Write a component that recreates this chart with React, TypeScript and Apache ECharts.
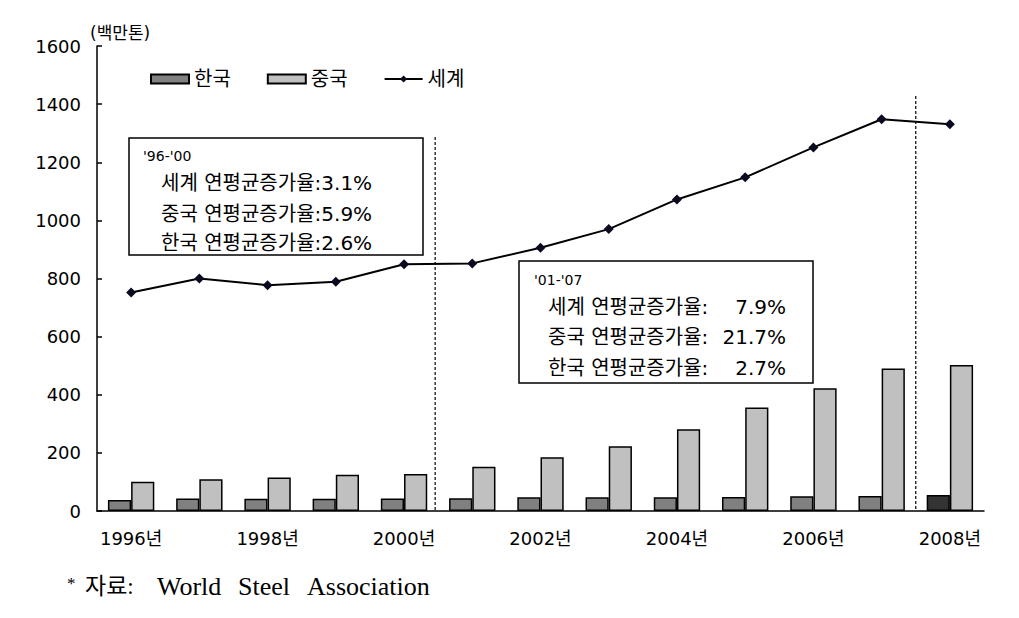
import { useEffect, useRef } from "react";
import * as echarts from "echarts";

const years = ["1996년", "1997년", "1998년", "1999년", "2000년", "2001년", "2002년", "2003년", "2004년", "2005년", "2006년", "2007년", "2008년"];
const korea = [38, 43, 42, 42, 43, 44, 47, 47, 47, 48, 51, 52, 55];
const china = [101, 109, 115, 125, 127, 152, 185, 223, 281, 356, 422, 490, 502];
const world = [752, 800, 777, 789, 849, 852, 906, 970, 1072, 1148, 1251, 1348, 1331];
const yTicks = { min: 0, max: 1600, interval: 200 };

const box1Lines = ["'96-'00", "세계 연평균증가율:3.1%", "중국 연평균증가율:5.9%", "한국 연평균증가율:2.6%"];
const box2Header = "'01-'07";
const box2Labels = ["세계 연평균증가율:", "중국 연평균증가율:", "한국 연평균증가율:"];
const box2Values = ["7.9%", "21.7%", "2.7%"];
const sourceWords = ["World", "Steel", "Association"];

const FONT = "'DejaVu Sans', 'Noto Sans CJK KR', sans-serif";
const SERIF = "'Liberation Serif', 'Noto Sans CJK KR', serif";

export default function App() {
  const ref = useRef<HTMLDivElement>(null);
  useEffect(() => {
    if (!ref.current) return;
    const chart = echarts.init(ref.current, undefined, { renderer: "svg" });
    const lastIdx = years.length - 1;
    chart.setOption({
      animation: false,
      backgroundColor: "#fff",
      grid: { left: 97, top: 46, width: 887, height: 465, containLabel: false },
      legend: {
        left: 145,
        top: 64,
        itemWidth: 38,
        itemHeight: 9,
        itemGap: 36,
        selectedMode: false,
        textStyle: { fontSize: 20, color: "#000", fontFamily: FONT },
        data: [
          { name: "한국", icon: "rect" },
          { name: "중국", icon: "rect" },
          { name: "세계" },
        ],
      },
      xAxis: {
        type: "category",
        data: years,
        boundaryGap: true,
        axisLine: { lineStyle: { color: "#000", width: 1.5 } },
        axisTick: { inside: true, length: 5, interval: 0, lineStyle: { color: "#000", width: 1.5 } },
        axisLabel: { interval: 1, fontSize: 18, color: "#000", margin: 18, fontFamily: FONT },
        splitLine: { show: false },
      },
      yAxis: {
        type: "value",
        min: yTicks.min,
        max: yTicks.max,
        interval: yTicks.interval,
        axisLine: { show: true, lineStyle: { color: "#000", width: 1.5 } },
        axisTick: { show: true, inside: true, length: 5, lineStyle: { color: "#000", width: 1.5 } },
        axisLabel: { fontSize: 18, color: "#000", margin: 16, fontFamily: FONT, formatter: (v: number) => String(v) },
        splitLine: { show: false },
      },
      series: [
        {
          name: "한국",
          type: "bar",
          barGap: "0%",
          barCategoryGap: "32%",
          itemStyle: { color: "#808080", borderColor: "#000", borderWidth: 1.5 },
          data: korea.map((v, i) =>
            i === lastIdx ? { value: v, itemStyle: { color: "#333333" } } : v
          ),
        },
        {
          name: "중국",
          type: "bar",
          barGap: "0%",
          barCategoryGap: "32%",
          itemStyle: { color: "#c0c0c0", borderColor: "#000", borderWidth: 1.5 },
          data: china,
        },
        {
          name: "세계",
          type: "line",
          symbol: "diamond",
          symbolSize: 10,
          itemStyle: { color: "#0a0a20" },
          lineStyle: { color: "#000", width: 2 },
          data: world,
          z: 5,
        },
      ],
    });

    const px = (i: number) => chart.convertToPixel({ xAxisIndex: 0 }, years[i]) as number;
    const xDiv1 = (px(4) + px(5)) / 2 - 3;
    const xDiv2 = (px(11) + px(12)) / 2;
    const yBase = chart.convertToPixel({ yAxisIndex: 0 }, 0) as number;

    const textStyle = (text: string, x: number, y: number, size: number, align = "left", family = FONT) => ({
      type: "text",
      x,
      y,
      style: { text, fontSize: size, fill: "#000", fontFamily: family, align, verticalAlign: "middle" },
      z: 20,
    });

    chart.setOption({
      graphic: [
        { type: "line", shape: { x1: xDiv1, y1: 137, x2: xDiv1, y2: yBase }, style: { stroke: "#000", lineWidth: 1.2, lineDash: [3, 2] }, z: 10 },
        { type: "line", shape: { x1: xDiv2, y1: 96, x2: xDiv2, y2: yBase }, style: { stroke: "#000", lineWidth: 1.2, lineDash: [3, 2] }, z: 10 },
        { type: "rect", shape: { x: 129, y: 138, width: 294, height: 117 }, style: { fill: "#fff", stroke: "#000", lineWidth: 1.5 }, z: 15 },
        { type: "rect", shape: { x: 519, y: 261, width: 294, height: 122 }, style: { fill: "#fff", stroke: "#000", lineWidth: 1.5 }, z: 15 },
        textStyle(box1Lines[0], 143, 156, 14),
        textStyle(box1Lines[1], 161, 183, 20),
        textStyle(box1Lines[2], 161, 214, 20),
        textStyle(box1Lines[3], 161, 243, 20),
        textStyle(box2Header, 534, 280, 14),
        ...box2Labels.map((l, i) => textStyle(l, 548, [307, 337, 368][i], 20)),
        ...box2Values.map((v, i) => textStyle(v, 786, [307, 337, 368][i], 20, "right")),
        textStyle("(백만톤)", 90, 33, 17),
        textStyle("*", 67, 583, 17, "left", SERIF),
        textStyle("자료:", 85, 586, 23, "left", SERIF),
        ...sourceWords.map((w, i) => textStyle(w, [157, 238, 307][i], 586, 26, "left", SERIF)),
      ],
    });

    return () => chart.dispose();
  }, []);
  return <div ref={ref} style={{ position: "absolute", left: 0, top: 0, width: 1019, height: 618 }} />;
}
